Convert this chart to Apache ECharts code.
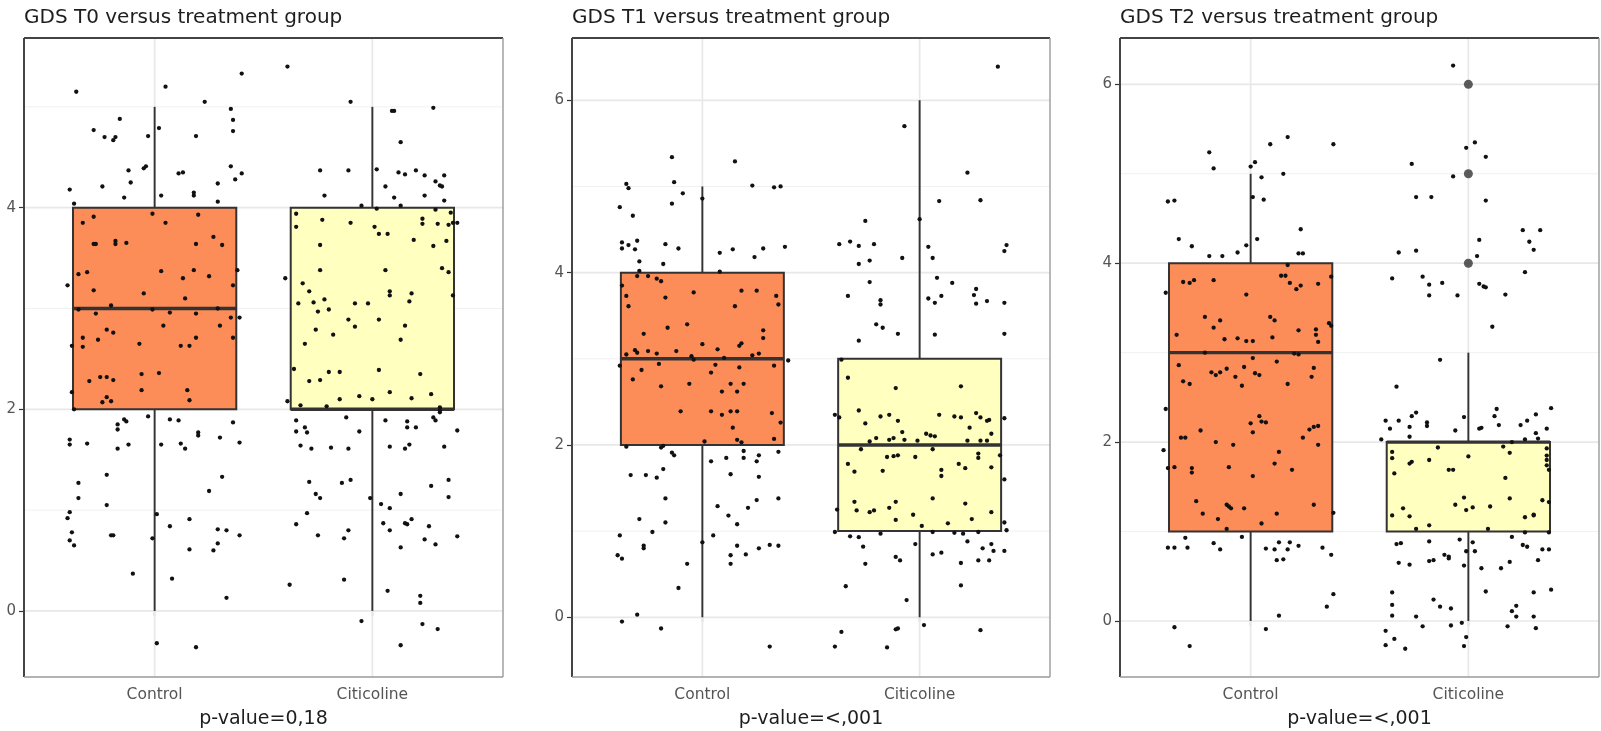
<!DOCTYPE html>
<html>
<head>
<meta charset="utf-8">
<script src="https://cdn.jsdelivr.net/npm/echarts@6/dist/echarts.min.js"></script>
<style>
html, body { margin: 0; padding: 0; background: #ffffff; }
#chart { width: 1601px; height: 731px; }
</style>
</head>
<body>
<div id="chart"></div>
<script>
// ---- data ----
const groups = ['Control', 'Citicoline'];
const panelTitles = ['GDS T0 versus treatment group', 'GDS T1 versus treatment group', 'GDS T2 versus treatment group'];
const pValueLabels = ['p-value=0,18', 'p-value=<,001', 'p-value=<,001'];

// box statistics per group: [lower whisker, Q1, median, Q3, upper whisker]
const t0Boxes = [[0, 2, 3, 4, 5], [0, 2, 2, 4, 5]];
const t1Boxes = [[0, 2, 3, 4, 5], [0, 1, 2, 3, 6]];
const t2Boxes = [[0, 1, 3, 4, 5], [0, 1, 2, 2, 3]];

// outlying scores per group
const t0Outliers = [[], []];
const t1Outliers = [[], []];
const t2Outliers = [[], [4, 5, 6]];

// y tick labels and visible score range per panel
const t0Ticks = [0, 2, 4];
const t1Ticks = [0, 2, 4, 6];
const t2Ticks = [0, 2, 4, 6];
const t0Range = [-0.655, 5.683];
const t1Range = [-0.693, 6.723];
const t2Range = [-0.626, 6.518];

// jittered observations: [horizontal jitter from group centre, jittered score]
const t0Control = [
  [-0.36,5.15],[0.05,5.20],[0.40,5.33],[0.23,5.05],[0.35,4.98],[0.36,4.87],[0.36,4.76],[-0.16,4.88],[-0.28,4.77],[-0.23,4.70],
  [-0.19,4.67],[-0.18,4.70],[-0.03,4.71],[0.02,4.79],[0.19,4.71],[-0.12,4.37],[-0.11,4.25],[-0.05,4.39],[-0.04,4.41],[0.11,4.34],
  [0.13,4.35],[0.35,4.41],[0.40,4.34],[0.37,4.28],[0.29,4.24],[-0.39,4.18],[-0.24,4.21],[-0.14,4.10],[0.03,4.12],[0.18,4.15],
  [0.18,4.12],[0.29,4.06],[-0.37,4.04],
  [-0.33,3.85],[-0.28,3.91],[-0.01,3.94],[0.05,3.85],[0.20,3.93],[-0.28,3.64],[-0.27,3.64],[-0.18,3.67],[-0.18,3.64],[-0.13,3.65],
  [0.19,3.64],[0.27,3.71],[0.31,3.63],[-0.35,3.34],[-0.31,3.36],[0.03,3.37],[0.13,3.30],[0.18,3.38],[0.25,3.32],[0.38,3.38],
  [0.36,3.23],[-0.40,3.23],[-0.28,3.18],[-0.05,3.15],[0.14,3.10],[-0.20,3.03],[-0.35,2.99],[-0.27,2.95],[-0.01,2.99],[0.07,2.96],
  [0.19,2.95],[0.29,3.00],[0.35,2.91],[0.39,2.91],[-0.33,2.71],[-0.38,2.63],[-0.33,2.62],[-0.26,2.69],[-0.22,2.79],[-0.19,2.76],
  [-0.07,2.65],[0.04,2.83],[0.12,2.63],[0.16,2.63],[0.19,2.71],[0.30,2.83],[0.36,2.71],[-0.30,2.28],[-0.25,2.32],[-0.22,2.32],
  [-0.19,2.29],[-0.06,2.35],[0.02,2.36],
  [-0.38,2.17],[-0.22,2.12],[-0.20,2.08],[-0.24,2.07],[-0.06,2.19],[0.15,2.19],[0.16,2.09],[-0.37,2.00],
  [-0.03,1.93],[-0.14,1.90],[-0.13,1.88],[-0.17,1.85],[-0.17,1.80],[0.07,1.90],[0.11,1.89],[0.20,1.77],[0.20,1.74],[0.36,1.87],
  [-0.39,1.70],[-0.39,1.65],[-0.31,1.66],[-0.17,1.61],[-0.12,1.65],[0.03,1.65],[0.12,1.66],[0.14,1.61],[0.30,1.72],[0.39,1.67],
  [-0.35,1.27],[-0.22,1.35],[0.31,1.33],[0.25,1.19],[-0.35,1.12],[-0.22,1.05],[-0.39,0.98],[-0.40,0.92],[0.01,0.96],[0.07,0.84],
  [0.16,0.91],[0.29,0.81],[0.33,0.80],[0.39,0.75],[-0.38,0.78],[-0.39,0.70],[-0.37,0.65],[-0.20,0.75],[-0.19,0.75],[-0.01,0.72],
  [0.16,0.61],[0.27,0.60],[0.29,0.67],[-0.10,0.37],[0.08,0.32],[0.33,0.13],[0.01,-0.32],[0.19,-0.36]
];
const t0Citicoline = [
  [-0.39,5.40],[-0.10,5.05],[0.09,4.96],[0.10,4.96],[0.28,4.99],[0.13,4.65],[-0.24,4.37],[-0.11,4.37],[0.02,4.38],[0.12,4.35],
  [0.15,4.33],[0.20,4.37],[0.24,4.32],[0.33,4.32],[0.29,4.26],[0.31,4.22],[0.32,4.21],[0.06,4.21],[-0.22,4.12],[0.10,4.10],
  [0.24,4.12],[0.33,4.07],[-0.05,4.02],[0.02,3.99],[0.13,4.02],[0.29,3.98],
  [-0.35,3.94],[-0.35,3.81],[-0.23,3.88],[-0.10,3.85],[0.01,3.81],[0.03,3.74],[0.07,3.74],[0.23,3.89],[0.23,3.84],[0.30,3.84],
  [0.36,3.95],[0.35,3.83],[0.37,3.85],[0.39,3.85],[0.19,3.68],[0.28,3.62],[0.34,3.67],[-0.24,3.63],[-0.24,3.38],[0.06,3.38],
  [0.32,3.40],[0.35,3.36],[-0.40,3.30],[-0.32,3.25],[-0.29,3.17],[-0.22,3.09],[-0.34,3.05],[-0.27,3.06],[-0.25,2.97],[-0.20,2.99],
  [-0.08,3.05],[-0.02,3.05],[0.08,3.17],[0.08,3.13],[0.18,3.15],[0.17,3.07],[0.37,3.13],[-0.11,2.89],[-0.08,2.82],[0.03,2.89],
  [0.15,2.83],[0.13,2.69],[-0.26,2.79],[-0.18,2.74],[-0.31,2.65],[-0.36,2.40],[-0.29,2.28],[-0.24,2.29],[-0.20,2.37],[-0.15,2.37],
  [0.03,2.39],[0.22,2.35],
  [-0.39,2.08],[-0.33,2.04],[-0.21,2.03],[-0.15,2.10],[-0.06,2.13],[0.00,2.10],[0.08,2.17],[0.18,2.11],[0.27,2.15],[0.31,2.02],
  [0.31,1.99],[0.31,1.97],
  [-0.35,1.89],[-0.12,1.92],[0.06,1.89],[0.16,1.88],[0.28,1.92],[0.29,1.89],[-0.35,1.78],[-0.31,1.82],[-0.30,1.77],[-0.06,1.78],
  [0.16,1.82],[0.20,1.82],[0.39,1.79],[-0.33,1.64],[-0.28,1.61],[-0.19,1.62],[-0.11,1.61],[0.08,1.63],[0.15,1.61],[0.17,1.65],
  [0.33,1.63],[-0.29,1.28],[-0.14,1.27],[-0.10,1.30],[0.27,1.24],[0.35,1.30],[0.13,1.16],[-0.26,1.16],[-0.24,1.12],[-0.01,1.12],
  [0.35,1.13],[0.04,1.06],[0.08,1.02],[-0.30,0.97],[-0.35,0.86],[-0.25,0.75],[-0.13,0.72],[-0.11,0.80],[0.05,0.87],[0.08,0.80],
  [0.15,0.87],[0.18,0.91],[0.16,0.86],[0.26,0.84],[0.24,0.71],[0.29,0.66],[0.39,0.74],[0.13,0.63],[-0.38,0.26],[-0.13,0.31],
  [0.07,0.20],[0.22,0.15],[0.22,0.08],[-0.05,-0.10],[0.23,-0.13],[0.30,-0.18],[0.13,-0.34]
];
const t1Control = [
  [-0.14,5.34],[0.15,5.29],[-0.35,5.03],[-0.34,4.98],[-0.13,5.05],[-0.09,4.92],[-0.14,4.80],[-0.38,4.76],[-0.32,4.66],[0.00,4.86],
  [0.23,5.01],[0.33,4.99],[0.36,5.00],[-0.37,4.35],[-0.37,4.28],[-0.34,4.32],[-0.30,4.37],[-0.31,4.27],[-0.17,4.33],[-0.11,4.28],
  [-0.29,4.13],[-0.18,4.10],[0.08,4.23],[0.14,4.27],[0.24,4.18],[0.28,4.28],[0.38,4.30],[0.08,4.01],[-0.29,4.02],
  [-0.30,3.96],[-0.25,3.96],[-0.21,3.93],[-0.19,3.90],[-0.37,3.85],[-0.35,3.73],[-0.34,3.61],[-0.17,3.71],[-0.04,3.77],[0.15,3.61],
  [0.18,3.79],[0.25,3.79],[0.34,3.73],[0.35,3.63],[-0.27,3.29],[-0.16,3.36],[-0.07,3.40],[0.00,3.17],[0.07,3.11],[0.17,3.15],
  [0.18,3.18],[0.28,3.33],[0.28,3.24],[-0.31,3.10],[-0.25,3.09],[-0.21,3.06],[-0.35,3.05],[-0.30,3.07],[-0.12,3.09],[-0.05,3.03],
  [-0.04,2.99],[0.10,3.01],[0.23,3.04],[0.26,3.06],[-0.38,2.92],[-0.28,2.87],[-0.20,2.94],[-0.32,2.76],[-0.19,2.68],[-0.06,2.71],
  [0.04,2.84],[0.06,2.93],[0.13,2.71],[0.17,2.90],[0.19,2.71],[0.33,2.92],[0.395,2.98],
  [0.09,2.62],[0.16,2.62],[-0.10,2.39],[0.04,2.39],[0.09,2.35],[0.13,2.39],[0.16,2.39],[0.14,2.20],[0.32,2.37],[0.36,2.26],
  [0.16,2.06],[0.18,2.03],[0.33,2.07],[0.01,2.04],
  [-0.35,1.98],[-0.19,1.97],[-0.14,1.91],[-0.13,1.88],[-0.18,1.99],[0.04,1.81],[0.11,1.85],[0.19,1.93],[0.19,1.85],[0.25,1.81],
  [0.26,1.88],[0.35,1.92],[-0.33,1.65],[-0.26,1.65],[-0.21,1.62],[-0.18,1.72],[0.13,1.66],[0.26,1.63],[-0.17,1.38],[0.07,1.29],
  [0.12,1.18],[0.16,1.08],[0.21,1.27],[0.25,1.36],[0.35,1.38],[-0.29,1.14],[-0.17,1.10],[-0.23,0.99],[-0.38,0.95],[-0.27,0.83],
  [-0.27,0.80],[0.05,0.95],[0.00,0.87],[0.16,0.83],[0.26,0.80],[0.31,0.84],[0.35,0.83],[-0.39,0.72],[-0.37,0.68],[0.13,0.72],
  [0.13,0.62],[0.20,0.73],[-0.07,0.62],[-0.11,0.34],[-0.37,-0.05],[-0.30,0.03],[-0.19,-0.13],[0.31,-0.34]
];
const t1Citicoline = [
  [0.36,6.39],[-0.07,5.70],[0.22,5.16],[0.09,4.83],[0.28,4.84],[-0.25,4.60],[0.00,4.62],[-0.37,4.33],[-0.32,4.36],[-0.28,4.31],
  [-0.21,4.33],[-0.28,4.10],[-0.23,4.14],[-0.08,4.17],[0.04,4.30],[0.06,4.17],[0.39,4.25],[0.40,4.32],[0.08,3.94],[0.15,3.88],
  [0.26,3.81],[0.25,3.74],[-0.23,3.89],[-0.33,3.73],[-0.18,3.68],[-0.18,3.63],[0.04,3.70],[0.07,3.65],[0.10,3.73],[0.26,3.64],
  [0.31,3.67],[0.39,3.65],[-0.20,3.40],[-0.17,3.36],[-0.10,3.29],[-0.28,3.21],[0.07,3.28],[0.39,3.29],[-0.36,2.99],[-0.33,2.78],
  [-0.11,2.66],[0.19,2.68],
  [-0.28,2.40],[-0.39,2.35],[-0.37,2.32],[-0.25,2.25],[-0.18,2.33],[-0.14,2.35],[-0.10,2.28],[-0.08,2.15],[0.09,2.35],[0.16,2.33],
  [0.19,2.32],[0.23,2.20],[0.26,2.37],[0.28,2.32],[0.31,2.28],[0.32,2.29],[0.33,2.13],[0.39,2.31],[0.03,2.13],[0.05,2.11],
  [0.07,2.10],[-0.23,2.04],[-0.20,2.08],[-0.14,2.06],[-0.12,2.08],[-0.07,2.06],[-0.01,2.05],[0.22,2.05],[0.28,2.05],[0.31,2.05],
  [-0.27,1.95],[0.06,1.95],[0.27,1.90],[0.27,1.85],[0.37,1.88],[-0.15,1.86],[-0.12,1.87],[-0.10,1.88],[-0.02,1.86],[-0.33,1.78],
  [-0.30,1.69],[-0.17,1.70],[0.10,1.71],[0.10,1.64],[0.18,1.78],[0.21,1.73],[0.33,1.74],[0.39,1.60],[-0.30,1.34],[-0.29,1.24],
  [-0.23,1.22],[-0.21,1.24],[-0.14,1.27],[-0.11,1.34],[0.06,1.38],[0.21,1.32],[0.33,1.22],[-0.38,1.25],[-0.11,1.13],[-0.03,1.19],
  [0.01,1.06],[0.13,1.09],[0.24,1.14],[0.39,1.10],[-0.39,0.99],[-0.32,0.94],[-0.28,0.93],[-0.26,0.82],[-0.18,0.97],[-0.02,0.85],
  [0.06,0.99],[0.06,0.73],[0.10,0.75],[0.16,0.98],[0.20,0.97],[0.22,0.88],[0.27,0.99],[0.29,0.80],[0.33,0.85],[0.34,0.77],
  [0.39,0.77],[0.40,1.01],[-0.25,0.62],[-0.11,0.70],[-0.09,0.66],[0.19,0.63],[0.27,0.66],[0.32,0.66],[-0.34,0.36],[-0.06,0.20],
  [0.19,0.37],[-0.36,-0.17],[-0.11,-0.14],[-0.10,-0.13],[0.02,-0.09],[0.28,-0.15],[-0.39,-0.34],[-0.15,-0.35]
];
const t2Control = [
  [0.17,5.41],[0.09,5.33],[-0.19,5.24],[-0.17,5.06],[0.00,5.08],[0.02,5.13],[0.05,4.96],[0.15,5.00],[0.01,4.74],[0.06,4.71],
  [-0.38,4.69],[-0.35,4.70],[-0.33,4.27],[-0.27,4.19],[-0.19,4.08],[-0.13,4.08],[-0.06,4.12],[-0.02,4.20],[0.03,4.27],[0.23,4.38],
  [0.22,4.11],[0.24,4.11],
  [0.17,3.98],[0.14,3.86],[0.16,3.86],[0.18,3.78],[0.21,3.71],[0.23,3.75],[0.31,3.77],[-0.31,3.79],[-0.28,3.78],[-0.26,3.81],
  [-0.17,3.81],[-0.02,3.65],[-0.39,3.67],[-0.21,3.40],[-0.14,3.36],[-0.17,3.28],[0.09,3.40],[0.11,3.36],[0.22,3.25],[0.30,3.26],
  [0.30,3.20],[0.31,3.12],[0.36,3.33],[-0.34,3.20],[-0.12,3.15],[-0.06,3.16],[-0.02,3.13],[0.01,3.13],[0.10,3.17],[-0.21,3.00],
  [0.01,2.94],[0.20,2.99],[0.22,2.98],
  [-0.33,2.86],[-0.18,2.78],[-0.16,2.75],[-0.14,2.78],[-0.11,2.82],[-0.07,2.73],[-0.04,2.63],[-0.03,2.84],[0.02,2.77],[0.04,2.75],
  [0.12,2.90],[0.17,2.65],[0.28,2.73],[0.29,2.83],[-0.31,2.68],[-0.28,2.65],[-0.39,2.37],[0.00,2.21],[0.01,2.11],[0.04,2.29],
  [0.05,2.23],[0.07,2.22],[-0.23,2.13],[-0.32,2.05],[-0.30,2.05],[-0.16,2.00],[-0.08,1.97],[0.24,2.05],[0.27,2.14],[0.29,2.17],
  [0.31,2.18],[0.31,1.97],[-0.40,1.91],[-0.38,1.71],[-0.35,1.72],[-0.27,1.71],[-0.27,1.66],[-0.10,1.72],[0.01,1.62],[0.11,1.76],
  [0.13,1.89],[0.19,1.69],[-0.25,1.34],[-0.22,1.20],[-0.15,1.14],[-0.11,1.30],[-0.10,1.28],[-0.09,1.26],[-0.03,1.26],[0.05,1.09],
  [0.12,1.20],[0.29,1.30],[-0.11,1.03],
  [-0.30,0.93],[-0.04,0.94],[-0.38,0.82],[-0.35,0.82],[-0.29,0.82],[-0.17,0.87],[-0.14,0.80],[0.07,0.81],[0.11,0.80],[0.13,0.88],
  [0.17,0.80],[0.18,0.88],[0.22,0.84],[0.33,0.82],[0.12,0.68],[0.15,0.69],[0.13,0.06],[0.35,0.16],[-0.35,-0.07],[0.07,-0.09],
  [-0.28,-0.28],
  [0.38,5.33],[0.37,3.85],[0.37,3.30],[0.38,1.21],[0.37,0.74],[0.38,0.30]
];
const t2Citicoline = [
  [-0.07,6.21],[-0.01,5.29],[0.03,5.35],[0.08,5.19],[-0.26,5.11],[-0.07,4.97],[-0.24,4.74],[-0.17,4.74],[0.08,4.70],[0.25,4.37],
  [0.33,4.37],[0.28,4.24],[0.30,4.15],[0.05,4.26],[0.04,4.08],[-0.32,4.12],[-0.24,4.14],[-0.35,3.83],[-0.21,3.85],[-0.18,3.76],
  [-0.18,3.64],[-0.12,3.78],[-0.05,3.64],[0.05,3.77],[0.07,3.74],[0.08,3.73],[0.17,3.65],[0.26,3.90],[0.11,3.29],[-0.13,2.92],
  [-0.33,2.62],[-0.38,2.24],[-0.36,2.15],[-0.32,2.24],[-0.26,2.29],[-0.27,2.17],[-0.24,2.33],[-0.19,2.22],[-0.19,2.18],[-0.27,2.06],
  [-0.40,2.03],[-0.06,2.13],[-0.02,2.28],[0.05,2.15],[0.06,2.16],[0.12,2.29],[0.14,2.19],[0.13,2.37],[0.24,2.19],[0.27,2.24],
  [0.31,2.31],[0.38,2.38],[0.36,2.15],[0.31,2.10],[0.32,2.04],[0.26,2.03],[0.20,2.00],
  [-0.14,1.94],[-0.35,1.89],[-0.35,1.82],[-0.26,1.78],[-0.27,1.76],[-0.18,1.80],[-0.09,1.69],[-0.07,1.69],[0.00,1.84],[0.16,1.95],
  [0.19,1.88],[0.36,1.93],[0.36,1.85],[0.36,1.74],[0.37,1.69],[0.36,1.80],[-0.34,1.65],[0.17,1.60],[-0.02,1.38],[-0.06,1.30],
  [0.02,1.27],[-0.01,1.24],[0.10,1.28],[0.19,1.37],[0.34,1.35],[0.37,1.33],[-0.35,1.18],[-0.30,1.26],[-0.27,1.17],[-0.18,1.07],
  [-0.24,1.03],[0.09,1.03],[0.26,1.16],[0.30,1.19],[0.30,1.18],[0.26,0.99],[0.37,0.99],
  [-0.33,0.86],[-0.31,0.87],[-0.18,0.89],[-0.04,0.91],[0.02,0.88],[0.03,0.78],[-0.01,0.78],[0.20,0.94],[0.25,0.85],[0.27,0.83],
  [0.34,0.80],[0.37,0.80],[0.32,0.68],[-0.32,0.65],[-0.27,0.63],[-0.18,0.67],[-0.16,0.68],[-0.11,0.74],[-0.09,0.70],[-0.09,0.72],
  [-0.02,0.62],[0.06,0.59],[0.15,0.59],[0.19,0.66],[-0.35,0.32],[-0.35,0.18],[-0.16,0.24],[-0.13,0.16],[-0.08,0.14],[0.08,0.33],
  [0.22,0.17],[0.20,0.11],[0.30,0.32],[0.38,0.35],[-0.35,0.06],[-0.24,0.05],[-0.21,-0.06],[-0.08,-0.05],[-0.03,-0.02],[-0.01,-0.18],
  [0.18,-0.06],[0.22,0.05],[0.30,0.05],[0.31,-0.08],[-0.38,-0.11],[-0.34,-0.20],[-0.38,-0.27],[-0.29,-0.31],[-0.02,-0.28]
];

// ---- assembly ----
const panels = [
  { boxes: t0Boxes, outliers: t0Outliers, ticks: t0Ticks, range: t0Range, points: [t0Control, t0Citicoline] },
  { boxes: t1Boxes, outliers: t1Outliers, ticks: t1Ticks, range: t1Range, points: [t1Control, t1Citicoline] },
  { boxes: t2Boxes, outliers: t2Outliers, ticks: t2Ticks, range: t2Range, points: [t2Control, t2Citicoline] }
];

// layout of the three plotting panels
const gridBoxes = [
  { left: 24, top: 38, width: 479, height: 639 },
  { left: 572, top: 38, width: 478, height: 639 },
  { left: 1120, top: 38, width: 479, height: 639 }
];
const X_RANGE = [0.4, 2.6];
const BOX_HALF = 0.375;
const boxFills = ['#FC8D59', '#FFFFBF'];
const FONT = "'DejaVu Sans', 'Liberation Sans', sans-serif";
const INK = '#333333';

function renderGridLine(params, api) {
  const cs = params.coordSys;
  const horizontal = api.value(0) === 0;
  const v = api.value(1);
  const major = api.value(2) === 1;
  const style = { stroke: major ? '#E8E8E8' : '#F1F1F1', lineWidth: major ? 1.7 : 1 };
  if (horizontal) {
    const y = api.coord([1, v])[1];
    return { type: 'line', shape: { x1: cs.x, y1: y, x2: cs.x + cs.width, y2: y }, style };
  }
  const x = api.coord([v, 0])[0];
  return { type: 'line', shape: { x1: x, y1: cs.y, x2: x, y2: cs.y + cs.height }, style };
}

function renderBox(params, api) {
  const x = api.value(0);
  const lo = api.value(1), q1 = api.value(2), med = api.value(3), q3 = api.value(4), hi = api.value(5);
  const fill = boxFills[api.value(6)];
  const tl = api.coord([x - BOX_HALF, q3]);
  const br = api.coord([x + BOX_HALF, q1]);
  const pLo = api.coord([x, lo]), pQ1 = api.coord([x, q1]), pQ3 = api.coord([x, q3]), pHi = api.coord([x, hi]);
  const mL = api.coord([x - BOX_HALF, med]), mR = api.coord([x + BOX_HALF, med]);
  const whisker = { stroke: INK, lineWidth: 1.9 };
  return {
    type: 'group',
    children: [
      { type: 'line', shape: { x1: pHi[0], y1: pHi[1], x2: pQ3[0], y2: pQ3[1] }, style: whisker },
      { type: 'line', shape: { x1: pQ1[0], y1: pQ1[1], x2: pLo[0], y2: pLo[1] }, style: whisker },
      { type: 'rect', shape: { x: tl[0], y: tl[1], width: br[0] - tl[0], height: br[1] - tl[1] },
        style: { fill: fill, stroke: INK, lineWidth: 2 } },
      { type: 'line', shape: { x1: mL[0], y1: mL[1], x2: mR[0], y2: mR[1] }, style: { stroke: INK, lineWidth: 3.4 } }
    ]
  };
}

function renderFrame(params) {
  const cs = params.coordSys;
  const x0 = cs.x, y0 = cs.y, x1 = cs.x + cs.width, y1 = cs.y + cs.height;
  const dark = { stroke: '#444444', lineWidth: 2 };
  const light = { stroke: '#9A9A9A', lineWidth: 1.4 };
  return {
    type: 'group',
    children: [
      { type: 'line', shape: { x1: x0, y1: y0, x2: x1, y2: y0 }, style: dark },
      { type: 'line', shape: { x1: x0, y1: y0, x2: x0, y2: y1 }, style: dark },
      { type: 'line', shape: { x1: x1, y1: y0, x2: x1, y2: y1 }, style: light },
      { type: 'line', shape: { x1: x0, y1: y1, x2: x1, y2: y1 }, style: light }
    ]
  };
}

const grid = [], xAxis = [], yAxis = [], series = [], title = [];

panels.forEach((p, i) => {
  const g = gridBoxes[i];
  grid.push({ left: g.left, top: g.top, width: g.width, height: g.height, containLabel: false });

  const positions = groups.map((_, k) => k + 1);

  xAxis.push({
    gridIndex: i, type: 'value', min: X_RANGE[0], max: X_RANGE[1],
    axisLine: { show: false },
    splitLine: { show: false },
    axisTick: { show: true, customValues: positions, length: 5, lineStyle: { color: INK, width: 1.2 } },
    axisLabel: {
      customValues: positions, margin: 10,
      formatter: v => groups[Math.round(v) - 1] || '',
      color: '#555555', fontSize: 15.5, fontFamily: FONT
    }
  });
  yAxis.push({
    gridIndex: i, type: 'value', min: p.range[0], max: p.range[1],
    axisLine: { show: false },
    splitLine: { show: false },
    axisTick: { show: true, customValues: p.ticks, length: 5, lineStyle: { color: INK, width: 1.2 } },
    axisLabel: { customValues: p.ticks, margin: 8, color: '#555555', fontSize: 15, fontFamily: FONT }
  });

  // background grid: major lines at ticks, minor lines between them, verticals at groups
  const gridLines = [];
  p.ticks.forEach(t => gridLines.push([0, t, 1]));
  p.ticks.forEach(t => { if (t + 1 < p.range[1]) gridLines.push([0, t + 1, 0]); });
  positions.forEach(x => gridLines.push([1, x, 1]));
  series.push({
    type: 'custom', xAxisIndex: i, yAxisIndex: i, silent: true, z: 1,
    renderItem: renderGridLine, data: gridLines, encode: { x: -1, y: -1 }
  });

  // boxes
  series.push({
    type: 'custom', xAxisIndex: i, yAxisIndex: i, silent: true, z: 2,
    renderItem: renderBox,
    data: p.boxes.map((b, k) => [positions[k]].concat(b, [k])),
    encode: { x: 0, y: [1, 2, 3, 4, 5] }
  });

  // jittered observations
  const pts = [];
  p.points.forEach((list, k) => list.forEach(([d, v]) => pts.push([positions[k] + d, v])));
  series.push({
    type: 'scatter', xAxisIndex: i, yAxisIndex: i, silent: true, z: 4,
    symbol: 'circle', symbolSize: 4.3,
    itemStyle: { color: '#111111', opacity: 1 },
    data: pts
  });

  // outliers
  const outs = [];
  p.outliers.forEach((list, k) => list.forEach(v => outs.push([positions[k], v])));
  if (outs.length) {
    series.push({
      type: 'scatter', xAxisIndex: i, yAxisIndex: i, silent: true, z: 3,
      symbol: 'circle', symbolSize: 9,
      itemStyle: { color: '#333333' },
      data: outs
    });
  }

  // panel border
  series.push({
    type: 'custom', xAxisIndex: i, yAxisIndex: i, silent: true, z: 6,
    renderItem: renderFrame, data: [[1, 0]]
  });

  title.push({
    text: panelTitles[i], left: g.left, top: 8, padding: 0,
    textStyle: { color: '#1E1E1E', fontSize: 20, fontWeight: 'normal', fontFamily: FONT }
  });
  title.push({
    text: pValueLabels[i], left: g.left + g.width / 2, top: 710, padding: 0, textAlign: 'center',
    textStyle: { color: '#1E1E1E', fontSize: 19, fontWeight: 'normal', fontFamily: FONT }
  });
});

const chart = echarts.init(document.getElementById('chart'), null, { renderer: 'canvas' });
chart.setOption({
  backgroundColor: '#FFFFFF',
  animation: false,
  title: title,
  grid: grid,
  xAxis: xAxis,
  yAxis: yAxis,
  series: series
});
</script>
</body>
</html>
